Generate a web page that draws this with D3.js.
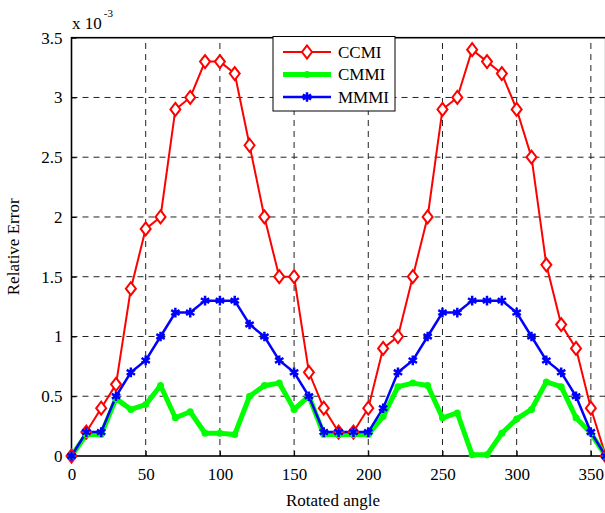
<!DOCTYPE html>
<html>
<head>
<meta charset="utf-8">
<script src="https://cdn.jsdelivr.net/npm/d3@7"></script>
<style>
  body { margin: 0; background: #fff; }
  text { font-family: "Liberation Serif", "Times New Roman", serif; fill: #000; }
</style>
</head>
<body>
<script>
// rotated angle, degrees
let angles = d3.range(0, 361, 10);

// relative error, x 10^-3
let ccmi = [0, 0.2, 0.4, 0.6, 1.4, 1.9, 2.0, 2.9, 3.0, 3.3, 3.3, 3.2, 2.6, 2.0, 1.5, 1.5, 0.7, 0.4, 0.2,
    0.2, 0.4, 0.9, 1.0, 1.5, 2.0, 2.9, 3.0, 3.4, 3.3, 3.2, 2.9, 2.5, 1.6, 1.1, 0.9, 0.4, 0];
let cmmi = [0, 0.18, 0.18, 0.48, 0.39, 0.43, 0.59, 0.32, 0.37, 0.19, 0.19, 0.18, 0.5, 0.59, 0.61, 0.39, 0.5, 0.18, 0.18,
    0.18, 0.18, 0.33, 0.58, 0.61, 0.59, 0.32, 0.36, 0.01, 0.01, 0.19, 0.31, 0.39, 0.62, 0.58, 0.32, 0.19, 0];
let mmmi = [0, 0.2, 0.2, 0.5, 0.7, 0.8, 1.0, 1.2, 1.2, 1.3, 1.3, 1.3, 1.1, 1.0, 0.8, 0.7, 0.5, 0.2, 0.2,
    0.2, 0.2, 0.4, 0.7, 0.8, 1.0, 1.2, 1.2, 1.3, 1.3, 1.3, 1.2, 1.0, 0.8, 0.7, 0.5, 0.2, 0];

let xTicks = [0, 50, 100, 150, 200, 250, 300, 350];
let yTicks = [0, 0.5, 1, 1.5, 2, 2.5, 3, 3.5];
let yTickLabels = ['0', '0.5', '1', '1.5', '2', '2.5', '3', '3.5'];

let width = 605, height = 513;
let margin = {top: 37.7, left: 71.5, bottom: 57, right: -0.7};

let svg = d3.select('body').append('svg')
    .attr('width', width)
    .attr('height', height);

let x = d3.scaleLinear().domain([0, 360]).range([margin.left, width - margin.right]);
let y = d3.scaleLinear().domain([0, 3.5]).range([height - margin.bottom, margin.top]);

// grid
let grid = svg.append('g').attr('class', 'grid')
    .style('stroke', '#222')
    .style('stroke-width', 1)
    .style('stroke-dasharray', '6,5');
grid.selectAll('.vgrid').data(xTicks.slice(1))
    .enter().append('line')
    .attr('x1', d => x(d)).attr('x2', d => x(d))
    .attr('y1', y(0)).attr('y2', y(3.5));
grid.selectAll('.hgrid').data(yTicks.slice(1, -1))
    .enter().append('line')
    .attr('x1', x(0)).attr('x2', x(360))
    .attr('y1', d => y(d)).attr('y2', d => y(d));

// axes, MATLAB style (ticks inward, box)
let xAxis = d3.axisBottom(x).tickValues(xTicks).tickSizeInner(-5).tickSizeOuter(0).tickPadding(9);
let yAxis = d3.axisLeft(y).tickValues(yTicks).tickFormat((d, i) => yTickLabels[i])
    .tickSizeInner(-5).tickSizeOuter(0).tickPadding(9);

svg.append('g').attr('transform', `translate(0,${y(0)})`).call(xAxis)
    .call(g => g.select('.domain').remove())
    .selectAll('text').style('font-size', '17px').style('font-family', '"Liberation Serif", serif').attr('dy', '0.9em');
svg.append('g').attr('transform', `translate(${x(0)},0)`).call(yAxis)
    .call(g => g.select('.domain').remove())
    .selectAll('text').style('font-size', '17px').style('font-family', '"Liberation Serif", serif');

svg.append('rect')
    .attr('x', x(0)).attr('y', y(3.5))
    .attr('width', x(360) - x(0)).attr('height', y(0) - y(3.5))
    .style('fill', 'none').style('stroke', '#000').style('stroke-width', 1.6);

// series
let line = d3.line()
    .x((d, i) => x(angles[i]))
    .y(d => y(d));

svg.append('path').datum(ccmi).attr('d', line)
    .style('fill', 'none').style('stroke', '#ff0000').style('stroke-width', 2);
svg.append('path').datum(cmmi).attr('d', line)
    .style('fill', 'none').style('stroke', '#00ff00').style('stroke-width', 5).style('stroke-linejoin', 'round');
svg.append('path').datum(mmmi).attr('d', line)
    .style('fill', 'none').style('stroke', '#0000ff').style('stroke-width', 2.5);

let diamond = 'M0,-6.5L5,0L0,6.5L-5,0Z';
let star = d3.symbol().type(d3.symbolAsterisk).size(65);

svg.append('g').selectAll('path').data(ccmi)
    .enter().append('path')
    .attr('d', diamond)
    .attr('transform', (d, i) => `translate(${x(angles[i])},${y(d)})`)
    .style('fill', '#fff').style('stroke', '#ff0000').style('stroke-width', 2);
svg.append('g').selectAll('circle').data(cmmi)
    .enter().append('circle')
    .attr('cx', (d, i) => x(angles[i])).attr('cy', d => y(d)).attr('r', 3.5)
    .style('fill', '#00ff00');
svg.append('g').selectAll('path').data(mmmi)
    .enter().append('path')
    .attr('d', star)
    .attr('transform', (d, i) => `translate(${x(angles[i])},${y(d)})`)
    .style('fill', 'none').style('stroke', '#0000ff').style('stroke-width', 2.5);

// labels
svg.append('text').text('Rotated angle')
    .attr('x', 333).attr('y', 506)
    .attr('text-anchor', 'middle').style('font-size', '17px');
svg.append('text').text('Relative Error')
    .attr('transform', `translate(19,${(y(0) + y(3.5)) / 2}) rotate(-90)`)
    .attr('text-anchor', 'middle').style('font-size', '17px');
let mult = svg.append('text').attr('x', 72).attr('y', 29).style('font-size', '17px');
mult.append('tspan').text('x 10');
mult.append('tspan').text('-3').attr('dx', 2).attr('dy', -12).style('font-size', '11px');

// legend
let legendItems = [
    {name: 'CCMI', color: '#ff0000', w: 2, mark: 'diamond'},
    {name: 'CMMI', color: '#00ff00', w: 5, mark: 'dot'},
    {name: 'MMMI', color: '#0000ff', w: 2.5, mark: 'star'}
];
let lg = svg.append('g').attr('transform', 'translate(273,36.5)');
lg.append('rect').attr('width', 122).attr('height', 74.5)
    .style('fill', '#fff').style('stroke', '#000').style('stroke-width', 1);
let rows = lg.selectAll('.row').data(legendItems)
    .enter().append('g')
    .attr('transform', (d, i) => `translate(0,${15.5 + i * 22.5})`);
rows.append('line').attr('x1', 10).attr('x2', 58)
    .style('stroke', d => d.color).style('stroke-width', d => d.w);
rows.filter(d => d.mark === 'diamond').append('path').attr('d', diamond).attr('transform', 'translate(34,0)')
    .style('fill', '#fff').style('stroke', d => d.color).style('stroke-width', 2);
rows.filter(d => d.mark === 'dot').append('circle').attr('cx', 34).attr('r', 3.5).style('fill', d => d.color);
rows.filter(d => d.mark === 'star').append('path').attr('d', star).attr('transform', 'translate(34,0)')
    .style('fill', 'none').style('stroke', d => d.color).style('stroke-width', 2.5);
rows.append('text').text(d => d.name)
    .attr('x', 65).attr('dy', '0.35em').style('font-size', '17px');
</script>
</body>
</html>
